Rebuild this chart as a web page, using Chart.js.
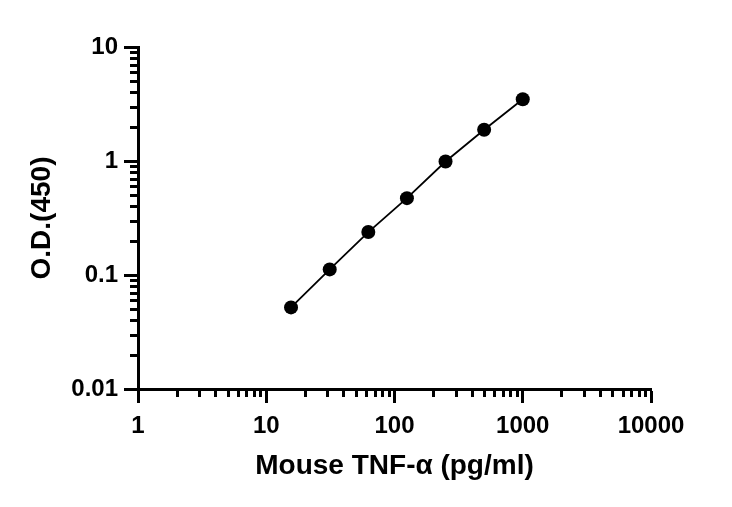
<!DOCTYPE html>
<html>
<head>
<meta charset="utf-8">
<script src="https://cdn.jsdelivr.net/npm/chart.js@4/dist/chart.umd.min.js"></script>
<style>
  html, body { margin: 0; padding: 0; background: #fff; }
  #wrap { width: 732px; height: 507px; }
</style>
</head>
<body>
<div id="wrap"><canvas id="odChart" width="732" height="507"></canvas></div>
<script>
// standard curve: concentration (pg/ml) vs O.D.(450)
const concentration = [15.6, 31.25, 62.5, 125, 250, 500, 1000];
const odValues = [0.052, 0.112, 0.238, 0.472, 0.99, 1.88, 3.48];

const xTicks = [1, 10, 100, 1000, 10000];
const yTicks = [0.01, 0.1, 1, 10];

const FONT = "'Liberation Sans', Arial, sans-serif";

// minor ticks 2..9 inside each decade, drawn on the library's scales
function minorValues(majors) {
  const out = [];
  for (let i = 0; i < majors.length - 1; i++) {
    for (let m = 2; m <= 9; m++) out.push(majors[i] * m);
  }
  return out;
}

const minorTicks = {
  id: "minorTicks",
  afterDraw(chart) {
    const c = chart.ctx;
    const xs = chart.scales.x;
    const ys = chart.scales.y;
    const area = chart.chartArea;
    c.save();
    c.strokeStyle = "#000";
    c.lineWidth = 3;
    c.beginPath();
    minorValues(xTicks).forEach((v) => {
      const px = Math.round(xs.getPixelForValue(v)) + 0.5;
      c.moveTo(px, area.bottom);
      c.lineTo(px, area.bottom + 8);
    });
    minorValues(yTicks).forEach((v) => {
      const py = Math.round(ys.getPixelForValue(v)) + 0.5;
      c.moveTo(area.left, py);
      c.lineTo(area.left - 8, py);
    });
    c.stroke();
    c.restore();
  },
};

const ctx = document.getElementById("odChart").getContext("2d");
const chart = new Chart(ctx, {
  type: "line",
  data: {
    datasets: [
      {
        data: concentration.map((x, i) => ({ x: x, y: odValues[i] })),
        borderColor: "#000",
        backgroundColor: "#000",
        borderWidth: 1.8,
        pointRadius: 7,
        pointHoverRadius: 7,
        pointBackgroundColor: "#000",
        pointBorderWidth: 0,
        tension: 0,
      },
    ],
  },
  options: {
    responsive: false,
    animation: false,
    events: [],
    layout: { padding: { left: 0, right: 81, top: 47, bottom: 0 } },
    plugins: { legend: { display: false }, tooltip: { enabled: false } },
    scales: {
      x: {
        type: "logarithmic",
        min: 1,
        max: 10000,
        afterBuildTicks: (s) => { s.ticks = xTicks.map((v) => ({ value: v })); },
        afterFit: (s) => { s.height = 118; },
        grid: { drawOnChartArea: false, tickLength: 14, tickWidth: 3, tickColor: "#000" },
        border: { display: true, width: 3, color: "#000" },
        ticks: {
          color: "#000",
          padding: 9,
          maxRotation: 0,
          font: { family: FONT, size: 24, weight: "bold" },
          callback: (v) => String(v),
        },
        title: {
          display: true,
          text: "Mouse TNF-α (pg/ml)",
          color: "#000",
          padding: { top: 0, bottom: 24 },
          font: { family: FONT, size: 28, weight: "bold" },
        },
      },
      y: {
        type: "logarithmic",
        min: 0.01,
        max: 10,
        afterBuildTicks: (s) => { s.ticks = yTicks.map((v) => ({ value: v })); },
        afterFit: (s) => { s.width = 138; },
        grid: { drawOnChartArea: false, tickLength: 14, tickWidth: 3, tickColor: "#000" },
        border: { display: true, width: 3, color: "#000" },
        ticks: {
          color: "#000",
          padding: 6,
          font: { family: FONT, size: 24, weight: "bold" },
          callback: (v) => String(v),
        },
        title: {
          display: true,
          text: "O.D.(450)",
          color: "#000",
          padding: { top: 25, bottom: 0 },
          font: { family: FONT, size: 28, weight: "bold" },
        },
      },
    },
  },
  plugins: [minorTicks],
});
</script>
</body>
</html>
